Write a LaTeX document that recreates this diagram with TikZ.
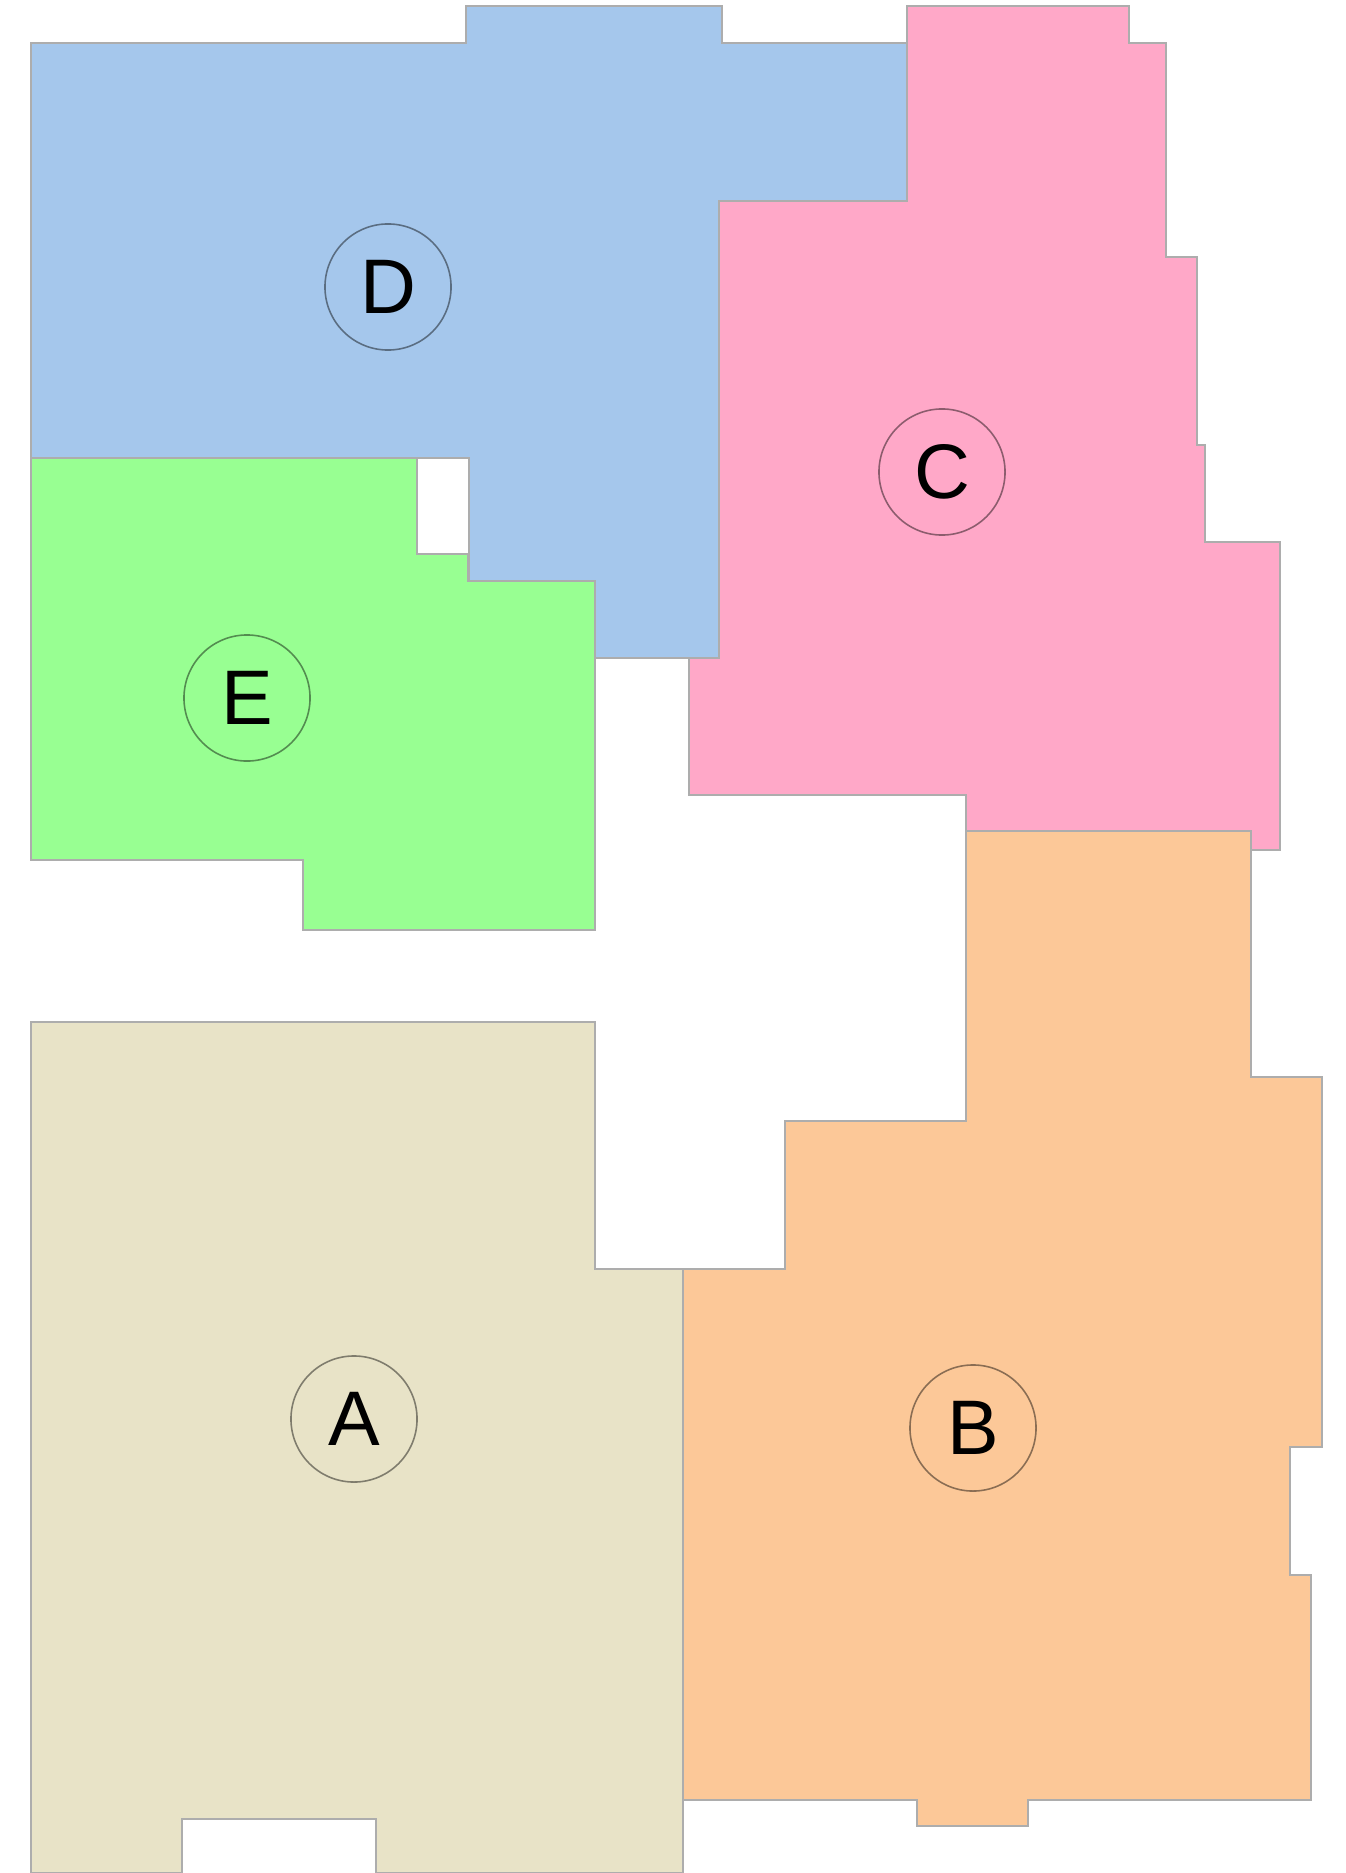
\documentclass[tikz,border=0pt]{standalone}
\usepackage{fontspec}
\newfontfamily\tagfont{Liberation Sans}
\definecolor{zoneA}{RGB}{232,227,199}
\definecolor{zoneB}{RGB}{252,200,152}
\definecolor{zoneC}{RGB}{255,168,200}
\definecolor{zoneD}{RGB}{165,199,236}
\definecolor{zoneE}{RGB}{152,255,146}
\begin{document}
\begin{tikzpicture}[x=0.01cm,y=-0.01cm]
    \tikzset{
      zone/.style={draw=black!32,line width=0.75pt,line join=miter},
      tag/.style={draw=black,draw opacity=0.45,circle,line width=0.45pt,
        minimum size=1.26cm,inner sep=0pt,
        font=\tagfont\fontsize{22}{26}\selectfont}
    }
    \useasboundingbox (0,0) rectangle (1346,1873);
    % regions
    \draw[zone,fill=zoneD] (31,43) -- (466,43) -- (466,6) -- (722,6) -- (722,43)
      -- (907,43) -- (907,201) -- (719,201) -- (719,658) -- (595,658)
      -- (595,581) -- (469,581) -- (469,458) -- (31,458) -- cycle;
    \draw[zone,fill=zoneE] (31,458) -- (417,458) -- (417,554) -- (468,554)
      -- (468,581) -- (595,581) -- (595,930) -- (303,930) -- (303,860)
      -- (31,860) -- cycle;
    \draw[zone,fill=zoneC] (907,6) -- (1129,6) -- (1129,43) -- (1166,43)
      -- (1166,257) -- (1197,257) -- (1197,445) -- (1205,445) -- (1205,542)
      -- (1280,542) -- (1280,850) -- (1251,850) -- (1251,831) -- (966,831)
      -- (966,795) -- (689,795) -- (689,658) -- (719,658) -- (719,201)
      -- (907,201) -- cycle;
    \draw[zone,fill=zoneB] (966,831) -- (1251,831) -- (1251,1077) -- (1322,1077)
      -- (1322,1447) -- (1290,1447) -- (1290,1575) -- (1311,1575)
      -- (1311,1800) -- (1028,1800) -- (1028,1826) -- (917,1826)
      -- (917,1800) -- (682,1800) -- (682,1269) -- (785,1269) -- (785,1121)
      -- (966,1121) -- cycle;
    \draw[zone,fill=zoneA] (31,1022) -- (595,1022) -- (595,1269) -- (683,1269)
      -- (683,1873) -- (376,1873) -- (376,1819) -- (182,1819) -- (182,1873)
      -- (31,1873) -- cycle;
    % labels
    \node[tag] (tagD) at (388,287) {D};
    \node[tag] (tagE) at (247,698) {E};
    \node[tag] (tagC) at (942,472) {C};
    \node[tag] (tagA) at (354,1419) {A};
    \node[tag] (tagB) at (973,1428) {B};
\end{tikzpicture}
\end{document}
